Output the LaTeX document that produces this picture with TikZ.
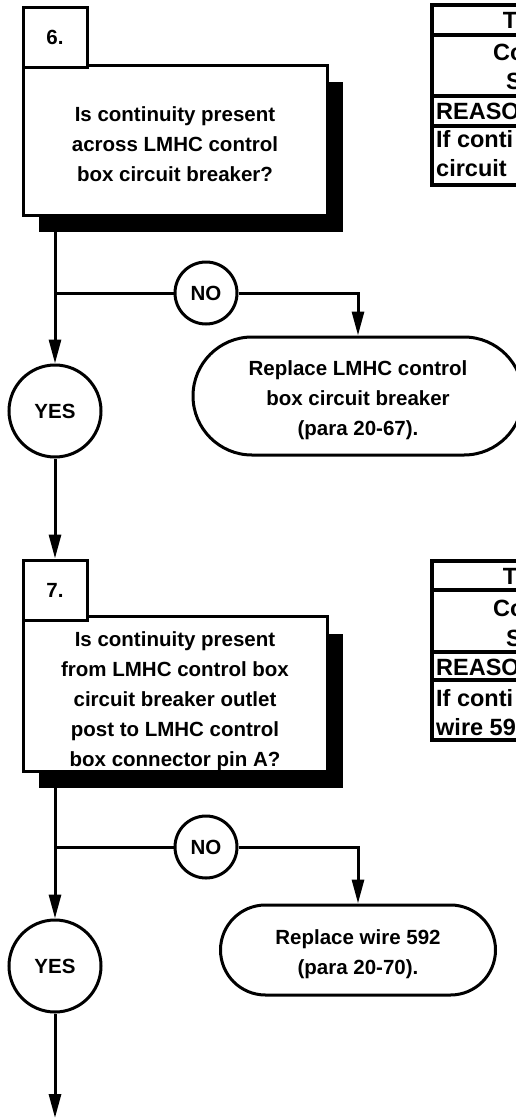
\documentclass[tikz,border=0pt]{standalone}
\usepackage{fontspec}
\setmainfont{Liberation Sans}
\usetikzlibrary{arrows.meta,shapes.misc,shadows}

\begin{document}
\begin{tikzpicture}[
    x=1pt, y=-1pt,
    every node/.style={font=\fontsize{20.5}{30}\selectfont\bfseries},
    flow/.style={line width=3pt},
    arrowflow/.style={flow, -{Triangle[length=24pt, width=12pt]}},
    stepnum/.style={draw, fill=white, line width=3pt, minimum width=64pt, minimum height=60pt, inner sep=0pt},
    question/.style={draw, fill=white, line width=3pt, minimum width=304pt, align=center, inner sep=0pt,
                     drop shadow={shadow xshift=16pt, shadow yshift=-17pt, fill=black, opacity=1}},
    answer/.style={draw, circle, line width=3pt, inner sep=0pt},
    action/.style={draw, rounded rectangle, line width=3pt, align=center, inner sep=0pt},
    tline/.style={line width=3.5pt},
    cell/.style={inner sep=0pt, font=\fontsize{23.5}{30}\selectfont\bfseries},
]

\useasboundingbox (0,0) rectangle (516,1119);

% Step 6
\node[question, minimum height=150pt] (box6) at (175,140)
    {\rule{0pt}{24pt}Is continuity present\\across LMHC control\\box circuit breaker?};
\node[stepnum] (tab6) at (55,37) {6.};

\node[answer, minimum size=62pt] (no6) at (206,293) {NO};
\node[answer, minimum size=92pt] (yes6) at (55,411) {YES};
\node[action, minimum width=330pt, minimum height=118pt] (act6) at (358,396)
    {\rule{0pt}{23pt}Replace LMHC control\\box circuit breaker\\(para 20-67).};

\coordinate (br6) at (tab6.south |- no6);
\draw[arrowflow] (tab6.south |- box6.south) -- (yes6);
\draw[flow] (br6) -- (no6);
\draw[arrowflow] (no6) -| (act6);

% Test table 6 (cut at the page edge)
\draw[tline] (530,5) -| (432,185) -- (530,185);
\foreach \y in {35,96,126}
    \draw[tline] (432,\y) -- (530,\y);
\node[cell] (t6a) at (510,20) {T};
\node[cell, anchor=west] (t6b) at (493,52) {Co};
\node[cell, anchor=west] (t6c) at (506,81) {S};
\node[cell, anchor=west] (t6d) at (436,111) {REASO};
\node[cell, anchor=west] (t6e) at (436,139) {If conti};
\node[cell, anchor=west] (t6f) at (436,168) {circuit};

% Step 7
\node[question, minimum height=148pt] (box7) at (175,694)
    {\rule{0pt}{30pt}Is continuity present\\from LMHC control box\\circuit breaker outlet\\post to LMHC control\\box connector pin A?};
\node[stepnum] (tab7) at (55,590) {7.};
\draw[arrowflow] (yes6) -- (tab7);

\node[answer, minimum size=62pt] (no7) at (206,847) {NO};
\node[answer, minimum size=92pt] (yes7) at (55,966) {YES};
\node[action, minimum width=275pt, minimum height=90pt] (act7) at (358,950)
    {\rule{0pt}{23pt}Replace wire 592\\(para 20-70).};

\coordinate (br7) at (tab7.south |- no7);
\coordinate (exit7) at (55,1118);
\draw[arrowflow] (tab7.south |- box7.south) -- (yes7);
\draw[flow] (br7) -- (no7);
\draw[arrowflow] (no7) -| (act7);
\draw[arrowflow] (yes7) -- (exit7);

% Test table 7 (cut at the page edge)
\draw[tline] (530,561) -| (432,740) -- (530,740);
\foreach \y in {590,652,680}
    \draw[tline] (432,\y) -- (530,\y);
\node[cell] (t7a) at (510,576) {T};
\node[cell, anchor=west] (t7b) at (493,608) {Co};
\node[cell, anchor=west] (t7c) at (506,638) {S};
\node[cell, anchor=west] (t7d) at (436,667) {REASO};
\node[cell, anchor=west] (t7e) at (436,698) {If conti};
\node[cell, anchor=west] (t7f) at (436,727) {wire 59};

\end{tikzpicture}
\end{document}
